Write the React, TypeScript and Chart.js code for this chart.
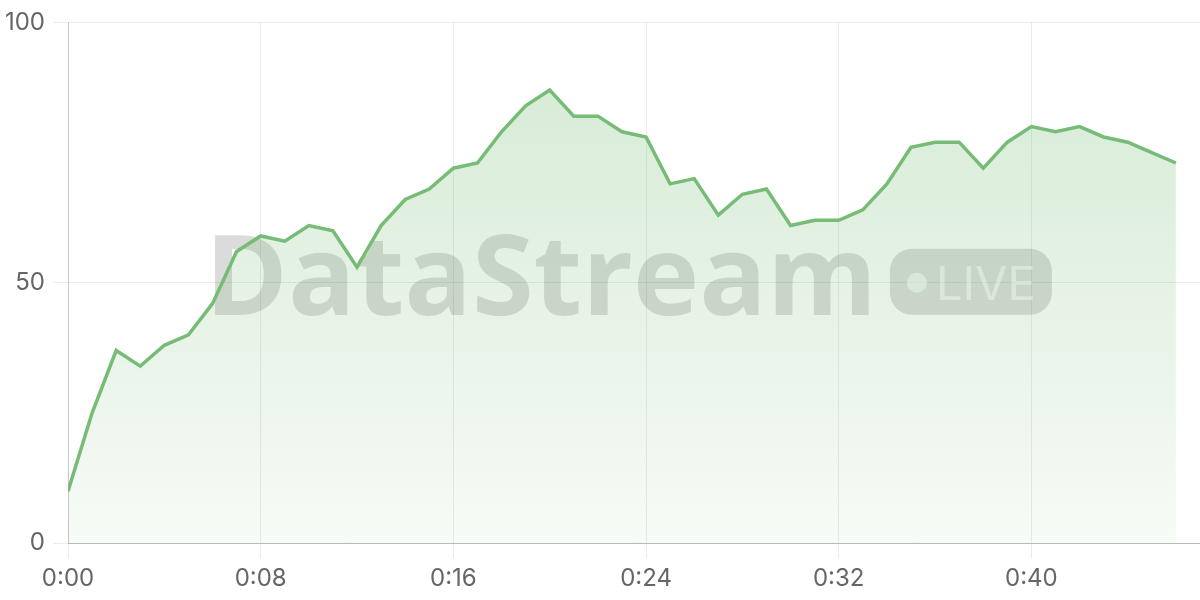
import { useEffect, useRef } from 'react'
import { Chart, registerables, Plugin } from 'chart.js'

Chart.register(...registerables)

// one sample per second, 0:00 .. 0:46
const values = [
  10, 25, 37, 34, 38, 40, 46, 56, 59, 58, 61, 60, 53, 61, 66, 68, 72, 73, 79, 84,
  87, 82, 82, 79, 78, 69, 70, 63, 67, 68, 61, 62, 62, 64, 69, 76, 77, 77, 72, 77,
  80, 79, 80, 78, 77, 75, 73,
]
const xTicks = [0, 8, 16, 24, 32, 40]
const yTicks = [0, 50, 100]

const LINE = 'rgb(118, 188, 118)'
const FONT = 'Inter, "Noto Sans", sans-serif'

function fmt(sec: number) {
  const m = Math.floor(sec / 60)
  const s = sec % 60
  return `${m}:${String(s).padStart(2, '0')}`
}

const watermark: Plugin = {
  id: 'watermark',
  beforeDatasetsDraw(chart) {
    const { ctx, chartArea } = chart
    const cx = (chartArea.left + chartArea.right) / 2 - 3
    const cy = (chartArea.top + chartArea.bottom) / 2
    ctx.save()
    ctx.font = `bold 112px "Open Sans", ${FONT}`
    ctx.textBaseline = 'alphabetic'
    const textW = ctx.measureText('DataStream').width
    const pillW = 162
    const pillH = 66
    const gap = 13
    const total = textW + gap + pillW
    const x0 = cx - total / 2 - 2.5
    ctx.fillStyle = 'rgba(0, 0, 0, 0.14)'
    ctx.fillText('DataStream', x0, cy + 32)
    const px = x0 + textW + gap
    const py = cy - 34
    ctx.beginPath()
    ctx.roundRect(px, py, pillW, pillH, 22)
    ctx.fill()
    ctx.fillStyle = 'rgba(255, 255, 255, 0.6)'
    ctx.beginPath()
    ctx.arc(px + 27, cy, 10, 0, Math.PI * 2)
    ctx.fill()
    ctx.font = `47px ${FONT}`
    ctx.fillText('LIVE', px + 46, cy + 17)
    ctx.restore()
  },
}

export default function App() {
  const canvasRef = useRef<HTMLCanvasElement>(null)

  useEffect(() => {
    if (!canvasRef.current) return
    const ctx = canvasRef.current.getContext('2d')
    if (!ctx) return

    const chart = new Chart(ctx, {
      type: 'line',
      data: {
        datasets: [
          {
            data: values.map((v, i) => ({ x: i, y: v })),
            borderColor: LINE,
            borderWidth: 3.5,
            pointRadius: 0,
            tension: 0,
            fill: 'origin',
            backgroundColor: (c) => {
              const area = c.chart.chartArea
              if (!area) return 'rgba(118, 186, 118, 0.2)'
              const g = c.chart.ctx.createLinearGradient(0, area.top, 0, area.bottom)
              g.addColorStop(0, 'rgba(110, 184, 110, 0.3)')
              g.addColorStop(1, 'rgba(110, 184, 110, 0.06)')
              return g
            },
          },
        ],
      },
      options: {
        responsive: true,
        maintainAspectRatio: false,
        animation: false,
        layout: { padding: { top: -2, bottom: 1, right: 0, left: 0 } },
        plugins: {
          legend: { display: false },
          tooltip: { enabled: false },
        },
        scales: {
          x: {
            type: 'linear',
            min: 0,
            max: 47,
            afterBuildTicks: (axis) => {
              axis.ticks = xTicks.map((v) => ({ value: v }))
            },
            ticks: {
              callback: (v) => fmt(Number(v)),
              color: '#666',
              font: { family: FONT, size: 24 },
              padding: 6,
              maxRotation: 0,
            },
            grid: {
              color: 'rgba(0, 0, 0, 0.08)',
              tickLength: 15,
            },
            border: { color: 'rgba(0, 0, 0, 0.22)' },
          },
          y: {
            min: 0,
            max: 100,
            afterBuildTicks: (axis) => {
              axis.ticks = yTicks.map((v) => ({ value: v }))
            },
            afterFit: (axis) => {
              axis.width = 68
            },
            ticks: {
              color: '#666',
              font: { family: FONT, size: 24 },
              padding: 8,
            },
            grid: {
              color: 'rgba(0, 0, 0, 0.08)',
              tickLength: 15,
            },
            border: { color: 'rgba(0, 0, 0, 0.15)' },
          },
        },
      },
      plugins: [watermark],
    })

    return () => {
      chart.destroy()
    }
  }, [])

  return (
    <div style={{ position: 'fixed', left: 0, top: 0, width: 1200, height: 600 }}>
      <canvas ref={canvasRef}></canvas>
    </div>
  )
}
